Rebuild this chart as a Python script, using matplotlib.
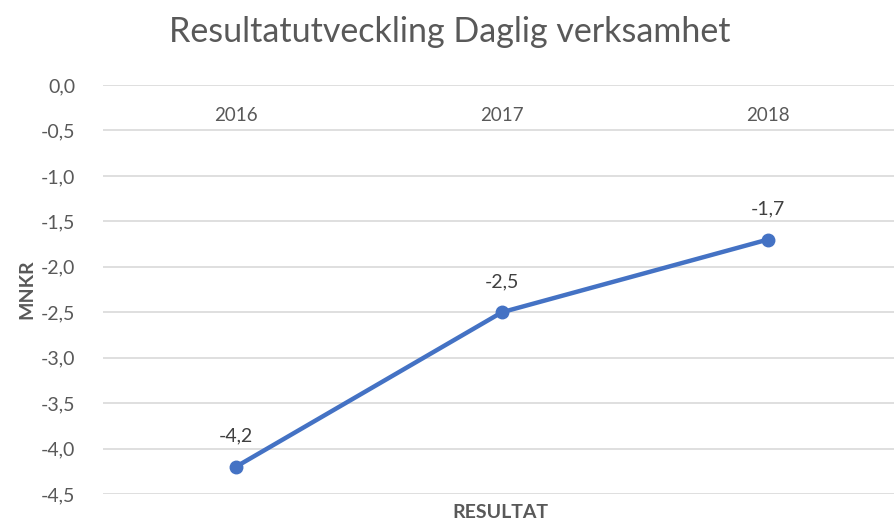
import matplotlib.pyplot as plt

years = ['2016', '2017', '2018']
resultat = [-4.2, -2.5, -1.7]
yticks = [0.0, -0.5, -1.0, -1.5, -2.0, -2.5, -3.0, -3.5, -4.0, -4.5]

plt.rcParams['font.family'] = ['Lato', 'DejaVu Sans']
grey = '#595959'

fig = plt.figure(figsize=(8.94, 5.25), dpi=100)
ax = fig.add_axes([103 / 894, 1 - 494 / 525, 798 / 894, (494 - 85) / 525])

x = list(range(len(years)))
ax.plot(x, resultat, color='#4472C4', lw=3.2, marker='o', ms=9, zorder=3)

for xi, v in zip(x, resultat):
    ax.annotate(f'{v:.1f}'.replace('.', ','), (xi, v), xytext=(0, 16),
                textcoords='offset points', ha='center', va='bottom',
                fontsize=14, color='#404040')

# category labels sit just under the axis at y = 0
for xi, lab in zip(x, years):
    ax.annotate(lab, (xi, 0), xytext=(0, -16), textcoords='offset points',
                ha='center', va='top', fontsize=13.5, color=grey)

ax.set_xlim(-0.5, 2.5)
ax.set_ylim(-4.5, 0)
ax.set_yticks(yticks)
ax.set_yticklabels([f'{t:.1f}'.replace('.', ',') for t in yticks])
ax.set_xticks([])
ax.tick_params(axis='y', length=0, pad=20, labelsize=14, labelcolor=grey)
ax.grid(axis='y', color='#D9D9D9', lw=1.2)
ax.set_axisbelow(True)
for s in ax.spines.values():
    s.set_visible(False)

ax.set_ylabel('MNKR', fontsize=14, fontweight='bold', color=grey, labelpad=4)
ax.set_xlabel('RESULTAT', fontsize=14, fontweight='bold', color=grey)
ax.xaxis.set_label_coords(0.5 - 2 / 798, -0.025)
fig.text(450 / 894, 1 - 32 / 525, 'Resultatutveckling Daglig verksamhet',
         ha='center', va='center', fontsize=24.5, color=grey)

fig.savefig('out.png', dpi=100)
